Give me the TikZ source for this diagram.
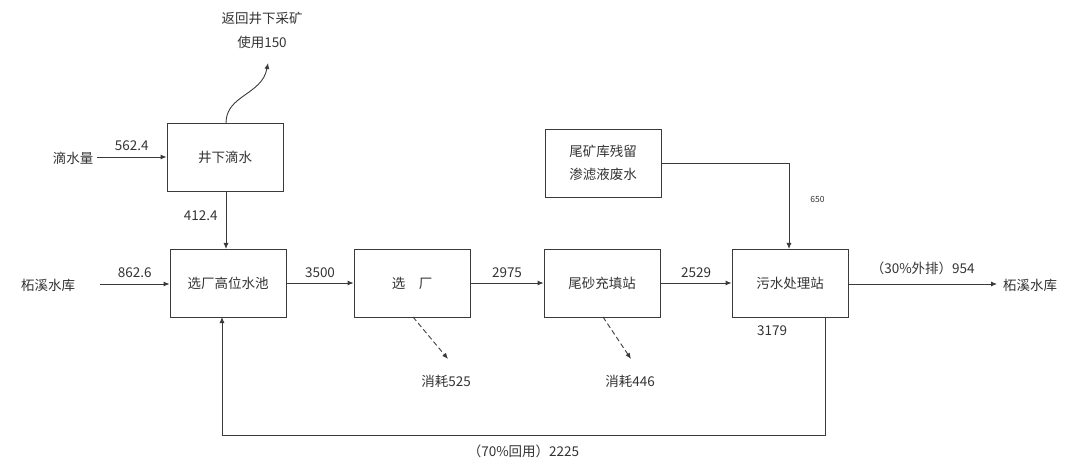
\documentclass[tikz,border=0pt]{standalone}
\usepackage{fontspec}
\setmainfont{Noto Sans CJK SC}
\usetikzlibrary{arrows.meta}
\definecolor{ln}{HTML}{3A3A3A}
\definecolor{tx}{HTML}{333333}
\tikzset{
  box/.style={draw=ln, line width=0.9pt, minimum width=116pt, minimum height=68pt, inner sep=0pt, align=center, text=tx, font=\fontsize{13.5}{23}\selectfont},
  lbl/.style={inner sep=0pt, text=tx, font=\fontsize{13.5}{24}\selectfont, align=center},
  flow/.style={draw=ln, line width=0.9pt, -{Latex[length=6pt,width=5pt]}},
  dflow/.style={draw=ln, line width=0.9pt, dashed, dash pattern=on 5pt off 3pt, -{Latex[length=6pt,width=5pt]}}
}
\begin{document}
\begin{tikzpicture}[x=1pt,y=-1pt]
\useasboundingbox (0,0) rectangle (1068,462);
% boxes
\node[box] (js) at (225,157) {井下滴水};
\node[box] (gw) at (228,283) {选厂高位水池};
\node[box] (xc) at (412,283) {选\quad 厂};
\node[box] (ws) at (602,283) {尾砂充填站};
\node[box] (wt) at (790,283) {污水处理站};
\node[box] (wk) at (603,163) {尾矿库残留\\渗滤液废水};
% labels
\node[lbl] (dsl) at (73,158) {滴水量};
\node[lbl] (zx1) at (48,285) {柘溪水库};
\node[lbl] (zx2) at (1030,285) {柘溪水库};
\node[lbl] (fh) at (262,30) {返回井下采矿\\使用150};
\node[lbl] (xh1) at (446,381) {消耗525};
\node[lbl] (xh2) at (630,381) {消耗446};
% coordinates
\coordinate (dsE) at (97,157);
\coordinate (zx1E) at (100,284);
\coordinate (zx2W) at (997,284);
\coordinate (fhT) at (268,63);
\coordinate (xh1T) at (448,359);
\coordinate (xh2T) at (631,359);
% flows
\draw[flow] (dsE) -- node[lbl, above=6pt] {562.4} (js.west);
\draw[flow] (zx1E) -- node[lbl, above=6pt] {862.6} (gw.west |- zx1E);
\draw[flow] (js.south -| 226,0) -- node[lbl, left=8pt, pos=0.42] {412.4} (226,249);
\draw[flow] (gw.east) -- node[lbl, above=5pt] {3500} (xc.west);
\draw[flow] (xc.east) -- node[lbl, above=5pt] {2975} (ws.west);
\draw[flow] (ws.east) -- node[lbl, above=5pt] {2529} (wt.west);
\draw[flow] (wt.east |- zx2W) -- node[lbl, above=9pt] {（30\%外排）954} (zx2W);
\draw[flow] (wk.east) -- (789,163) -- node[lbl, right=21pt, pos=0.42, font=\fontsize{8.5}{10}\selectfont] {650} (789,249);
\draw[flow] (226,123) .. controls (226,95) and (262,95) .. (fhT);
\draw[dflow] (413,317) -- (xh1T);
\draw[dflow] (603,317) -- (xh2T);
\draw[flow] (825,317) -- (825,435) -- node[lbl, below=9pt] {（70\%回用）2225} (222,435) -- (222,317);
\node[lbl] (n3179) at (772,331) {3179};
\end{tikzpicture}
\end{document}
